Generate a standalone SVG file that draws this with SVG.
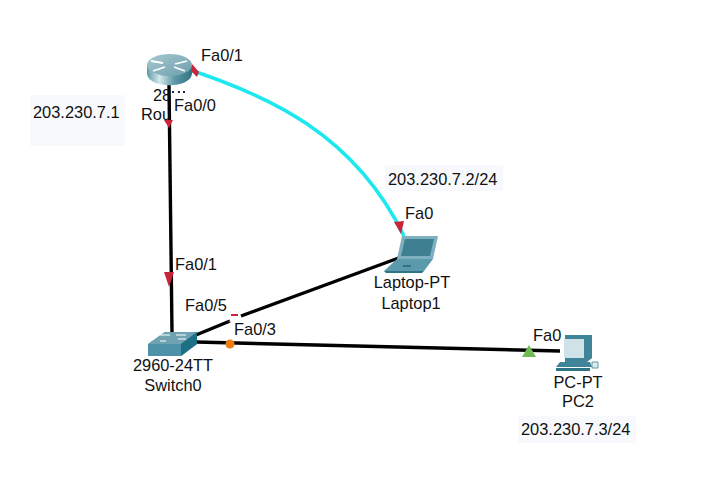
<svg xmlns="http://www.w3.org/2000/svg" width="716" height="485" viewBox="0 0 716 485">
<style>
text{font-family:"Liberation Sans",Arial,sans-serif;font-size:16.4px;fill:#111}
.m{text-anchor:middle}
.l{fill:none;stroke:#000;stroke-width:3.4}
.red{fill:#c8243c}
.note{fill:#f7f9fd}
</style>
<defs>
<linearGradient id="rg" x1="0" x2="1" y1="0" y2="0"><stop offset="0" stop-color="#5f99a6"/><stop offset=".28" stop-color="#d5e8ec"/><stop offset=".6" stop-color="#5f99a8"/><stop offset="1" stop-color="#2f7484"/></linearGradient>
<linearGradient id="rt" x1="0" x2="1" y1="0" y2="1"><stop offset="0" stop-color="#a9c8d0"/><stop offset="1" stop-color="#6b9fae"/></linearGradient>
</defs>
<rect width="716" height="485" fill="#fff"/>
<g id="notes">
<rect class="note" x="30" y="95" width="95" height="51"/>
<rect class="note" x="385" y="165" width="118" height="26"/>
<rect class="note" x="518" y="416" width="118" height="27"/>
</g>
<g id="connectors">
<path class="l" d="M169 85L172 333"/>
<path d="M178 66C270 95 355 135 404 236" fill="none" stroke="#1ce8ee" stroke-width="3.6"/>
<path class="l" d="M196 335L230 321M241 316L404 256"/>
<path class="l" d="M196 342L560 351"/>
</g>
<g id="markers">
<path class="red" d="M164 120L173 120L169 128Z"/>
<path class="red" d="M192 64L192 72L197 77L199 72Z"/>
<path class="red" d="M164 272L174 272L169 287Z"/>
<path class="red" d="M394 222L404 221L401 234Z"/>
<path class="red" d="M231 314L238 314L238 316L231 316Z"/>
<path class="red" d="M228 321L230 321L230 323Z"/>
<circle cx="230" cy="344" r="4.5" fill="#f07d12"/>
<path d="M522 357L536 357L529 345Z" fill="#6fbb54"/>
</g>
<g id="Router">
<path d="M147 65L147 74C149 89 190 89 192 74L192 65Z" fill="url(#rg)"/>
<ellipse cx="169.500" cy="65" rx="22.500" ry="11" fill="url(#rt)"/>
<path d="M151 61L163 63M187 61L175 64M153 71L165 67M174 67L185 71" stroke="#fff" stroke-width="1.800"/>
<text x="153" y="101">28</text>
<path d="M172 92h2M178 92h2M183 92h2" stroke="#1a2a55" stroke-width="2"/>
<text x="141" y="120">Rou</text>
<text x="174" y="111">Fa0/0</text>
<text x="201" y="61">Fa0/1</text>
</g>
<g id="Switch0">
<path d="M148 344L165 332L197 332L197 344L181 356L148 356Z" fill="#4d92a8"/>
<path d="M148 344L165 332L197 332L181 344Z" fill="#6fa3b2"/>
<path d="M181 344L197 332L197 344L181 356Z" fill="#1d6f84"/>
<path d="M160 335h10M176 335h10M160 341h6M178 339h8" stroke="#fff" stroke-width="1"/>
<text class="m" x="173" y="371">2960-24TT</text>
<text class="m" x="173" y="391">Switch0</text>
<text x="185" y="311">Fa0/5</text>
<text x="234" y="335">Fa0/3</text>
<text x="175" y="270">Fa0/1</text>
</g>
<g id="Laptop1">
<path d="M402 236L438 236L433 259L397 259Z" fill="#7fb0bf"/>
<path d="M405 239L434 239L430 256L401 256Z" fill="#3f7f92"/>
<path d="M397 259L433 259L424 271L384 271Z" fill="#5a9aab"/>
<path d="M384 271L424 271L422 273L386 273Z" fill="#2f7484"/>
<path d="M403 266h8" stroke="#2f6f80" stroke-width="2"/>
<text class="m" x="412" y="288">Laptop-PT</text>
<text class="m" x="411" y="309">Laptop1</text>
<text x="405" y="219">Fa0</text>
<text x="388" y="185">203.230.7.2/24</text>
</g>
<g id="PC2">
<path d="M565 335L592 335L592 358L587 362L565 362Z" fill="#3f8498"/>
<path d="M564 339L584 339L584 358L564 358Z" fill="#cfe2e8"/>
<path d="M560 362L590 362L592 367L556 367Z" fill="#3f8498"/>
<path d="M556 368H590V371H556Z" fill="#2f7484"/>
<path d="M592 362h6v6h-6z" fill="#dfeaee" stroke="#3f8498" stroke-width=".8"/>
<text class="m" x="578" y="388">PC-PT</text>
<text class="m" x="578" y="407">PC2</text>
<text x="533" y="341">Fa0</text>
<text x="521" y="435">203.230.7.3/24</text>
</g>
<g id="RouterIP"><text x="33" y="118">203.230.7.1</text></g>
</svg>
